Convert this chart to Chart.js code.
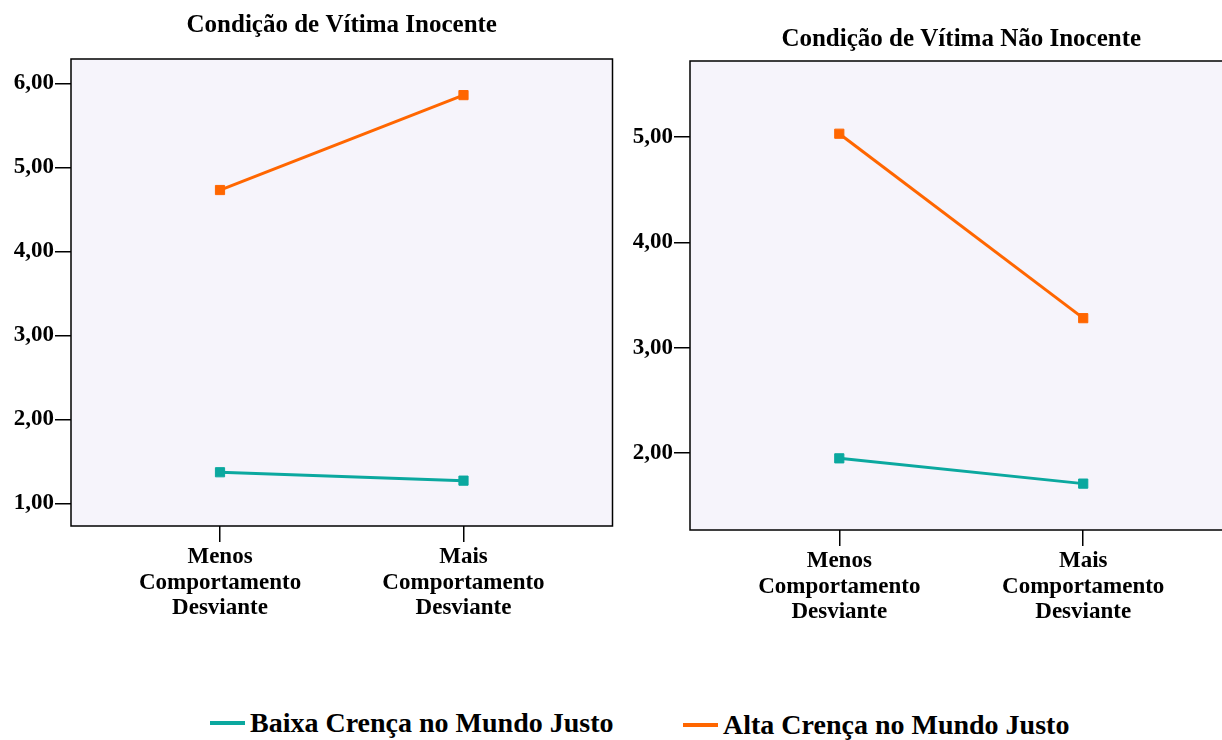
<!DOCTYPE html>
<html>
<head>
<meta charset="utf-8">
<script src="https://cdn.jsdelivr.net/npm/chart.js@4.4.1/dist/chart.umd.min.js"></script>
<style>
  html, body { margin: 0; padding: 0; background: #fff; overflow: hidden; }
  body { width: 1222px; height: 740px; position: relative; }
  canvas { position: absolute; top: 0; }
  #left { left: 0; }
  #right { left: 620px; }
  .legend { position: absolute; top: 707px; font: bold 28px 'Liberation Serif', serif; color: #000; white-space: nowrap; }
  .legend span.swatch { display: inline-block; width: 35px; height: 4px; vertical-align: middle; margin-right: 5px; position: relative; top: -3px; }
</style>
</head>
<body>
<canvas id="left" width="620" height="640"></canvas>
<canvas id="right" width="620" height="640"></canvas>
<div class="legend" id="leg0" style="left:210px"></div>
<div class="legend" id="leg1" style="left:683px; top:709px"></div>

<script>
// data
const categories = [['Menos', 'Comportamento', 'Desviante'], ['Mais', 'Comportamento', 'Desviante']];
const seriesNames = ['Baixa Crença no Mundo Justo', 'Alta Crença no Mundo Justo'];
const seriesColors = ['#0ba89f', '#ff6600'];

const inocenteBaixa = [1.37, 1.27];
const inocenteAlta = [4.73, 5.86];
const naoInocenteBaixa = [1.95, 1.71];
const naoInocenteAlta = [5.03, 3.28];

const yTicksInocente = [1, 2, 3, 4, 5, 6];
const yTicksNaoInocente = [2, 3, 4, 5];

const serif = "'Liberation Serif', 'Times New Roman', serif";

// fills the plot background and draws the box around it
const plotFrame = {
    id: 'plotFrame',
    beforeDraw(chart) {
        const { ctx, chartArea: a } = chart;
        ctx.save();
        ctx.fillStyle = '#f6f4fb';
        ctx.fillRect(a.left, a.top, a.right - a.left, a.bottom - a.top);
        ctx.restore();
    },
    afterDraw(chart) {
        const { ctx, chartArea: a } = chart;
        ctx.save();
        ctx.strokeStyle = '#000';
        ctx.lineWidth = 1.5;
        ctx.strokeRect(a.left, a.top, a.right - a.left, a.bottom - a.top);
        ctx.restore();
    }
};

function makeSeries(values, i) {
    return {
        label: seriesNames[i],
        data: values.map((v, k) => ({ x: k, y: v })),
        borderColor: seriesColors[i],
        backgroundColor: seriesColors[i],
        borderWidth: 3,
        pointStyle: 'rect',
        pointRadius: 6.5,
        pointBorderWidth: 1,
        tension: 0
    };
}

function initChart(canvasId, title, baixa, alta, yTicks, opts) {
    const ctx = document.getElementById(canvasId).getContext('2d');
    return new Chart(ctx, {
        type: 'line',
        data: { datasets: [makeSeries(baixa, 0), makeSeries(alta, 1)] },
        plugins: [plotFrame],
        options: {
            responsive: false,
            animation: false,
            devicePixelRatio: 1,
            layout: { padding: { left: 0, right: 5, top: 0, bottom: 0 } },
            plugins: {
                legend: { display: false },
                tooltip: { enabled: false },
                title: {
                    display: true,
                    text: title,
                    fullSize: false,
                    color: '#000',
                    font: { family: serif, size: 25, weight: 'bold', lineHeight: 1.2 },
                    padding: opts.titlePadding
                }
            },
            scales: {
                x: {
                    type: 'linear',
                    min: -0.612,
                    max: 1.612,
                    afterBuildTicks: s => { s.ticks = categories.map((c, k) => ({ value: k })); },
                    afterFit: s => { s.height = opts.xHeight; },
                    grid: { drawOnChartArea: false, drawTicks: true, tickLength: 16, color: '#000', lineWidth: 1.5 },
                    border: { display: false },
                    ticks: {
                        color: '#000',
                        padding: 3,
                        maxRotation: 0,
                        font: { family: serif, size: 23, weight: 'bold', lineHeight: 1.09 },
                        callback: v => categories[v]
                    }
                },
                y: {
                    min: opts.yMin,
                    max: opts.yMax,
                    afterBuildTicks: s => { s.ticks = yTicks.map(v => ({ value: v })); },
                    afterFit: s => { s.width = opts.yWidth; },
                    grid: { drawOnChartArea: false, drawTicks: true, tickLength: 16, color: '#000', lineWidth: 1.5 },
                    border: { display: false },
                    ticks: {
                        color: '#000',
                        padding: 1,
                        font: { family: serif, size: 23, weight: 'bold' },
                        callback: v => v.toFixed(2).replace('.', ',')
                    }
                }
            }
        }
    });
}

initChart('left', 'Condição de Vítima Inocente', inocenteBaixa, inocenteAlta, yTicksInocente, {
    yMin: 0.73, yMax: 6.29, yWidth: 71, xHeight: 114,
    titlePadding: { top: 11, bottom: 18 }
});

initChart('right', 'Condição de Vítima Não Inocente', naoInocenteBaixa, naoInocenteAlta, yTicksNaoInocente, {
    yMin: 1.27, yMax: 5.72, yWidth: 70, xHeight: 110,
    titlePadding: { top: 25, bottom: 6 }
});

// shared legend under both panels
seriesNames.forEach((name, i) => {
    const el = document.getElementById('leg' + i);
    const sw = document.createElement('span');
    sw.className = 'swatch';
    sw.style.background = seriesColors[i];
    el.appendChild(sw);
    el.appendChild(document.createTextNode(name));
});
</script>
</body>
</html>
